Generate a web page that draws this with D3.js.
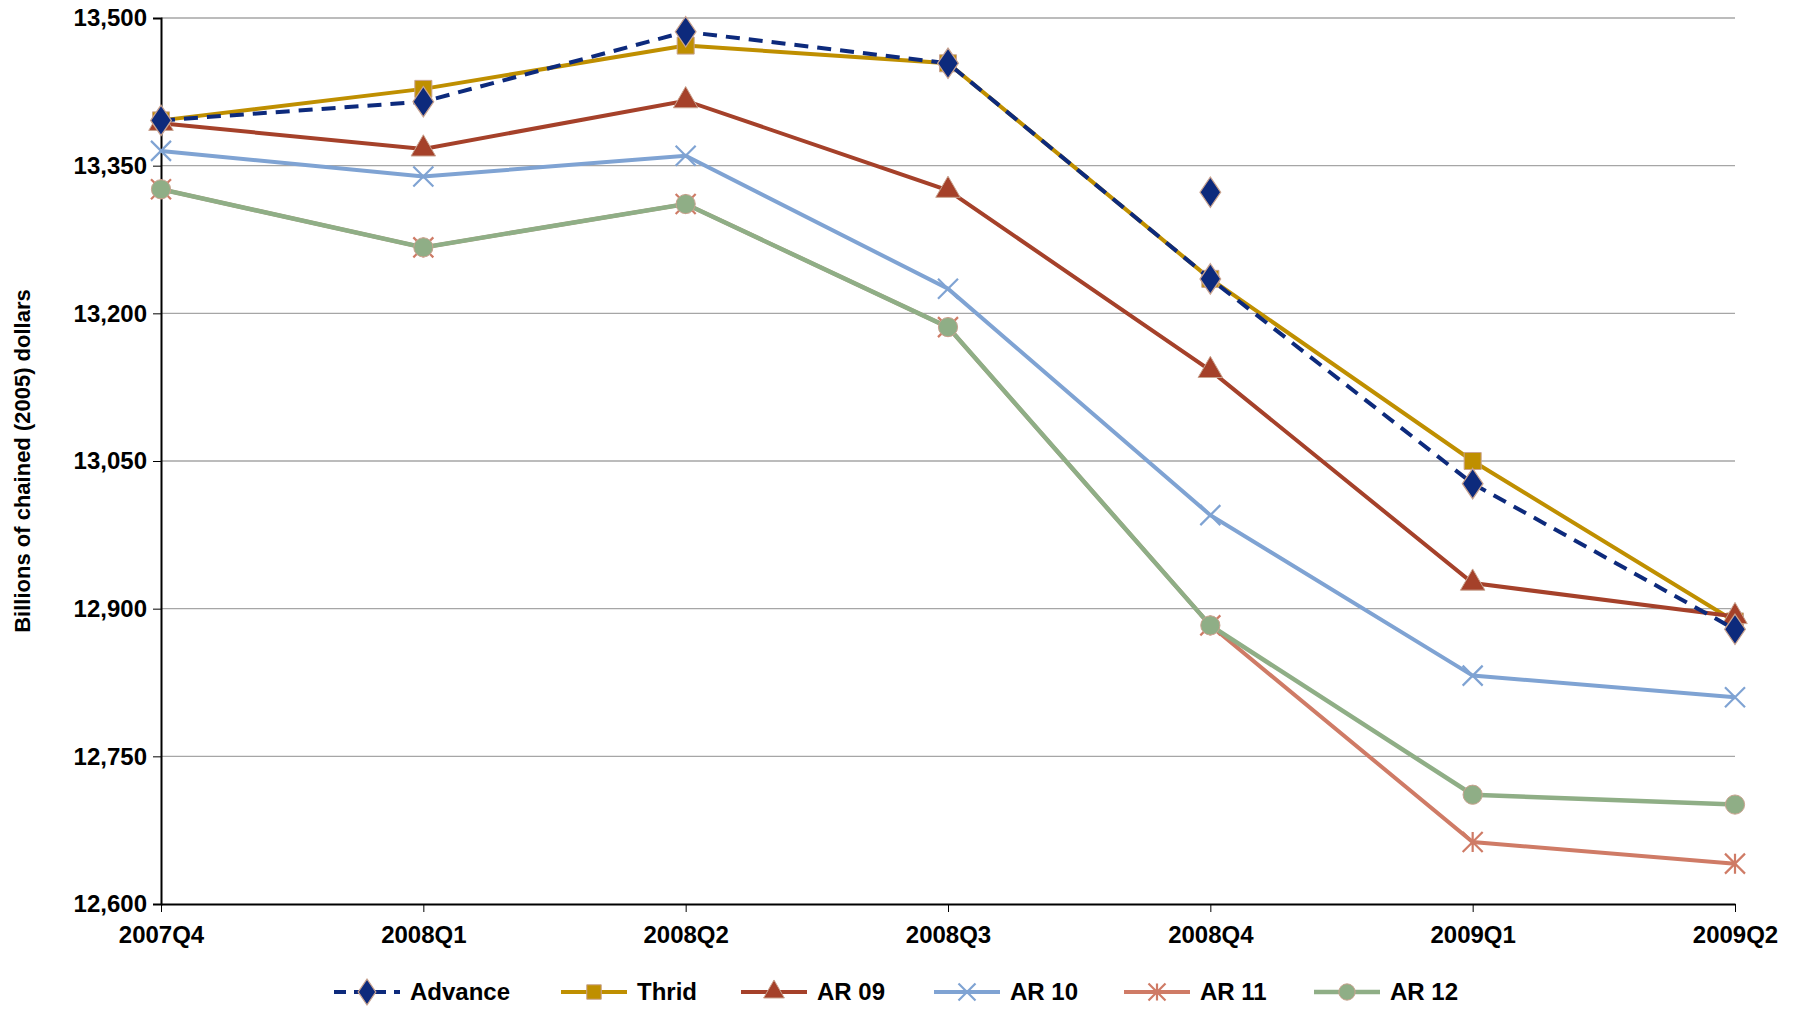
<!DOCTYPE html><html><head><meta charset="utf-8"><script src="https://cdn.jsdelivr.net/npm/d3@7"></script>
<style>body{margin:0;background:#fff}text{font-family:"Liberation Sans",Arial,sans-serif;font-weight:bold}</style></head><body>
<svg id="c" width="1799" height="1009"></svg>
<script>
const categories=["2007Q4","2008Q1","2008Q2","2008Q3","2008Q4","2009Q1","2009Q2"];
const yTicks=[12600,12750,12900,13050,13200,13350,13500];
const advance=[13396,13415,13486,13454,13235,13027,12879];
const advanceExtra=[{cat:"2008Q4",v:13323}];
const thrid=[13396,13428,13472,13454,13235,13050,12887];
const ar09=[13393,13367,13416,13325,13142,12926,12892];
const ar10=[13365,13339,13360,13225,12995,12832,12810];
const ar11=[13326,13267,13311,13186,12883,12663,12641];
const ar12=[13326,13267,13311,13186,12883,12711,12701];
const series=[
 {name:"Advance",data:advance,color:"#0d2a7c",dash:"14,9",sym:d3.symbolDiamond,size:220,w:4},
 {name:"Thrid",data:thrid,color:"#bf8f00",sym:d3.symbolSquare,size:290,w:4},
 {name:"AR 09",data:ar09,color:"#a5412a",sym:d3.symbolTriangle,size:260,w:4},
 {name:"AR 10",data:ar10,color:"#7fa3d3",sym:"x",size:0,w:4},
 {name:"AR 11",data:ar11,color:"#cf7b66",sym:"star",size:0,w:4},
 {name:"AR 12",data:ar12,color:"#8fae86",sym:d3.symbolCircle,size:290,w:4.5}
];
const drawOrder=["Thrid","AR 09","AR 10","AR 11","AR 12","Advance"];
const svg=d3.select("#c");
const L=161,R=1735,T=18,B=904;
const x=d3.scalePoint().domain(categories).range([L,R]);
const y=d3.scaleLinear().domain([12600,13500]).range([B,T]);
svg.append("g").selectAll("line").data(yTicks.slice(1)).join("line")
 .attr("x1",L).attr("x2",R).attr("y1",d=>y(d)).attr("y2",d=>y(d)).attr("stroke","#a6a6a6").attr("stroke-width",1.3);
const ya=svg.append("g").attr("transform",`translate(${L},0)`).call(d3.axisLeft(y).tickValues(yTicks).tickFormat(d3.format(",")).tickSize(8));
ya.selectAll("text").attr("font-size",24).attr("fill","#000").attr("dx",-3);
ya.select(".domain").attr("stroke","#000").attr("stroke-width",2);
const xa=svg.append("g").attr("transform",`translate(0,${B})`).call(d3.axisBottom(x).tickSize(8).tickSizeOuter(0));
xa.selectAll("text").attr("font-size",24).attr("fill","#000").attr("dy",28);
xa.select(".domain").attr("stroke","#000").attr("stroke-width",2);
svg.append("text").attr("transform",`translate(30,${(T+B)/2}) rotate(-90)`).attr("text-anchor","middle").attr("font-size",22).text("Billions of chained (2005) dollars");
function marker(g,s,cx,cy,sc=1){
 if(s.sym==="x"){const r=10*sc;g.append("path").attr("d",`M${cx-r},${cy-r}L${cx+r},${cy+r}M${cx-r},${cy+r}L${cx+r},${cy-r}`).attr("stroke",s.color).attr("stroke-width",2.2);}
 else if(s.sym==="star"){const r=10*sc;g.append("path").attr("d",`M${cx-r},${cy-r}L${cx+r},${cy+r}M${cx-r},${cy+r}L${cx+r},${cy-r}M${cx},${cy-r}L${cx},${cy+r}`).attr("stroke",s.color).attr("stroke-width",2.2);}
 else g.append("path").attr("d",d3.symbol().type(s.sym).size(s.size*sc*sc)()).attr("transform",`translate(${cx},${cy})${s.sym===d3.symbolDiamond?" scale(1.3,1.1)":""}`).attr("fill",s.color).attr("stroke","#c9a38f").attr("stroke-width",1);
}
const line=d3.line().x((d,i)=>x(categories[i])).y(d=>y(d));
drawOrder.map(n=>series.find(s=>s.name===n)).forEach(s=>{
 const g=svg.append("g");
 g.append("path").datum(s.data).attr("d",line).attr("fill","none").attr("stroke",s.color).attr("stroke-width",s.w).attr("stroke-dasharray",s.dash||null);
 s.data.forEach((v,i)=>marker(g,s,x(categories[i]),y(v)));
 if(s.name==="Advance") advanceExtra.forEach(p=>marker(g,s,x(p.cat),y(p.v)));
});
const lx=[334,561,741,934,1124,1314];
const lg=svg.append("g");
series.forEach((s,i)=>{
 const g=lg.append("g");
 g.append("line").attr("x1",lx[i]).attr("x2",lx[i]+66).attr("y1",992).attr("y2",992).attr("stroke",s.color).attr("stroke-width",s.w).attr("stroke-dasharray",s.dash?"12,8":null);
 marker(g,s,lx[i]+33,992,0.85);
 g.append("text").attr("x",lx[i]+76).attr("y",1000).attr("font-size",24).text(s.name);
});
</script></body></html>
